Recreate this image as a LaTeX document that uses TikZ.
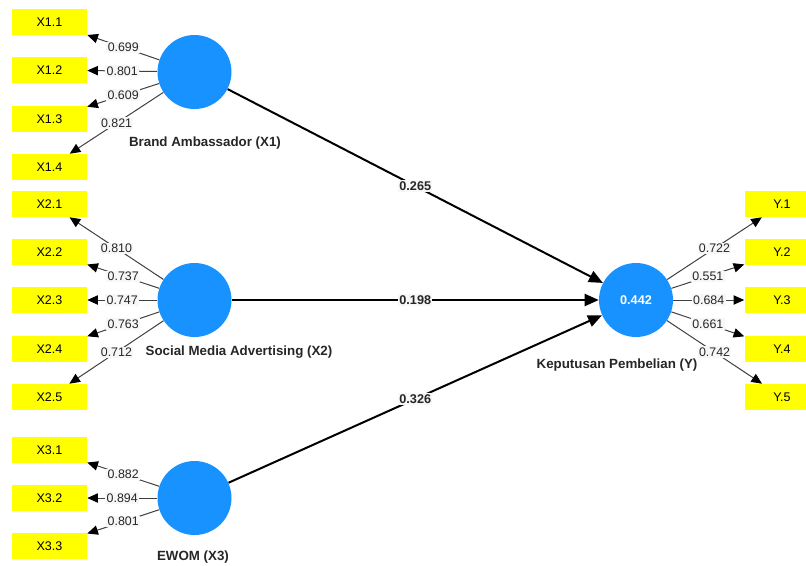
\documentclass[tikz,border=0pt]{standalone}
\usepackage{fontspec}
\setmainfont{Liberation Sans}
\usetikzlibrary{arrows.meta}
\definecolor{lvblue}{RGB}{24,146,255}
\definecolor{indyel}{RGB}{255,255,0}
\definecolor{lblbg}{RGB}{247,247,247}
\begin{document}
\begin{tikzpicture}[x=0.75pt,y=-0.75pt,
  ind/.style={fill=indyel,draw=none,minimum width=56.25pt,minimum height=19.5pt,inner sep=0pt,font=\fontsize{9.4}{10}\selectfont},
  lv/.style={circle,fill=lvblue,draw=none,minimum size=55.5pt,inner sep=0pt},
  lvname/.style={font=\bfseries\fontsize{10}{12}\selectfont,text=black!85},
  load/.style={draw=black!75,line width=0.75pt,-{Triangle[length=8pt,width=7pt,fill=black,color=black]}},
  path/.style={draw=black,line width=1.5pt,-{Triangle[length=10.5pt,width=9pt]}},
  lbl/.style={fill=lblbg,inner sep=1pt,font=\fontsize{9.3}{10}\selectfont,text=black!85},
  plbl/.style={fill=lblbg,inner sep=1pt,font=\bfseries\fontsize{9.5}{10}\selectfont,text=black!85}]
\useasboundingbox (0,0) rectangle (806,565);
\clip (0,0) rectangle (806,565);
% latent variables
\node[lv] (X1) at (194.5,72) {};
\node[lv] (X2) at (194.5,300) {};
\node[lv] (X3) at (194.5,498) {};
\node[lv,text=white,font=\bfseries\fontsize{9.5}{10}\selectfont] (Y) at (636,300) {0.442};
\node[lvname] (nX1) at (205,143) {Brand Ambassador (X1)};
\node[lvname] (nX2) at (239,352) {Social Media Advertising (X2)};
\node[lvname] (nX3) at (193,557) {EWOM (X3)};
\node[lvname] (nY) at (617,365) {Keputusan Pembelian (Y)};
% indicators
\node[ind] (x11) at (49.5,22) {X1.1};
\node[ind] (x12) at (49.5,70) {X1.2};
\node[ind] (x13) at (49.5,119) {X1.3};
\node[ind] (x14) at (49.5,167) {X1.4};
\node[ind] (x21) at (49.5,204) {X2.1};
\node[ind] (x22) at (49.5,252) {X2.2};
\node[ind] (x23) at (49.5,300) {X2.3};
\node[ind] (x24) at (49.5,349) {X2.4};
\node[ind] (x25) at (49.5,397) {X2.5};
\node[ind] (x31) at (49.5,450) {X3.1};
\node[ind] (x32) at (49.5,498) {X3.2};
\node[ind] (x33) at (49.5,546) {X3.3};
\node[ind] (y1) at (782,204) {Y.1};
\node[ind] (y2) at (782,252) {Y.2};
\node[ind] (y3) at (782,300) {Y.3};
\node[ind] (y4) at (782,349) {Y.4};
\node[ind] (y5) at (782,397) {Y.5};
% loadings
\draw[load] (X1) -- node[lbl] {0.699} (x11);
\draw[load] (X1) -- node[lbl] {0.801} (x12);
\draw[load] (X1) -- node[lbl] {0.609} (x13);
\draw[load] (X1) -- node[lbl] {0.821} (x14);
\draw[load] (X2) -- node[lbl] {0.810} (x21);
\draw[load] (X2) -- node[lbl] {0.737} (x22);
\draw[load] (X2) -- node[lbl] {0.747} (x23);
\draw[load] (X2) -- node[lbl] {0.763} (x24);
\draw[load] (X2) -- node[lbl] {0.712} (x25);
\draw[load] (X3) -- node[lbl] {0.882} (x31);
\draw[load] (X3) -- node[lbl] {0.894} (x32);
\draw[load] (X3) -- node[lbl] {0.801} (x33);
\draw[load] (Y) -- node[lbl] {0.722} (y1);
\draw[load] (Y) -- node[lbl] {0.551} (y2);
\draw[load] (Y) -- node[lbl] {0.684} (y3);
\draw[load] (Y) -- node[lbl] {0.661} (y4);
\draw[load] (Y) -- node[lbl] {0.742} (y5);
% paths
\draw[path] (X1) -- node[plbl] {0.265} (Y);
\draw[path] (X2) -- node[plbl] {0.198} (Y);
\draw[path] (X3) -- node[plbl] {0.326} (Y);
\end{tikzpicture}
\end{document}
